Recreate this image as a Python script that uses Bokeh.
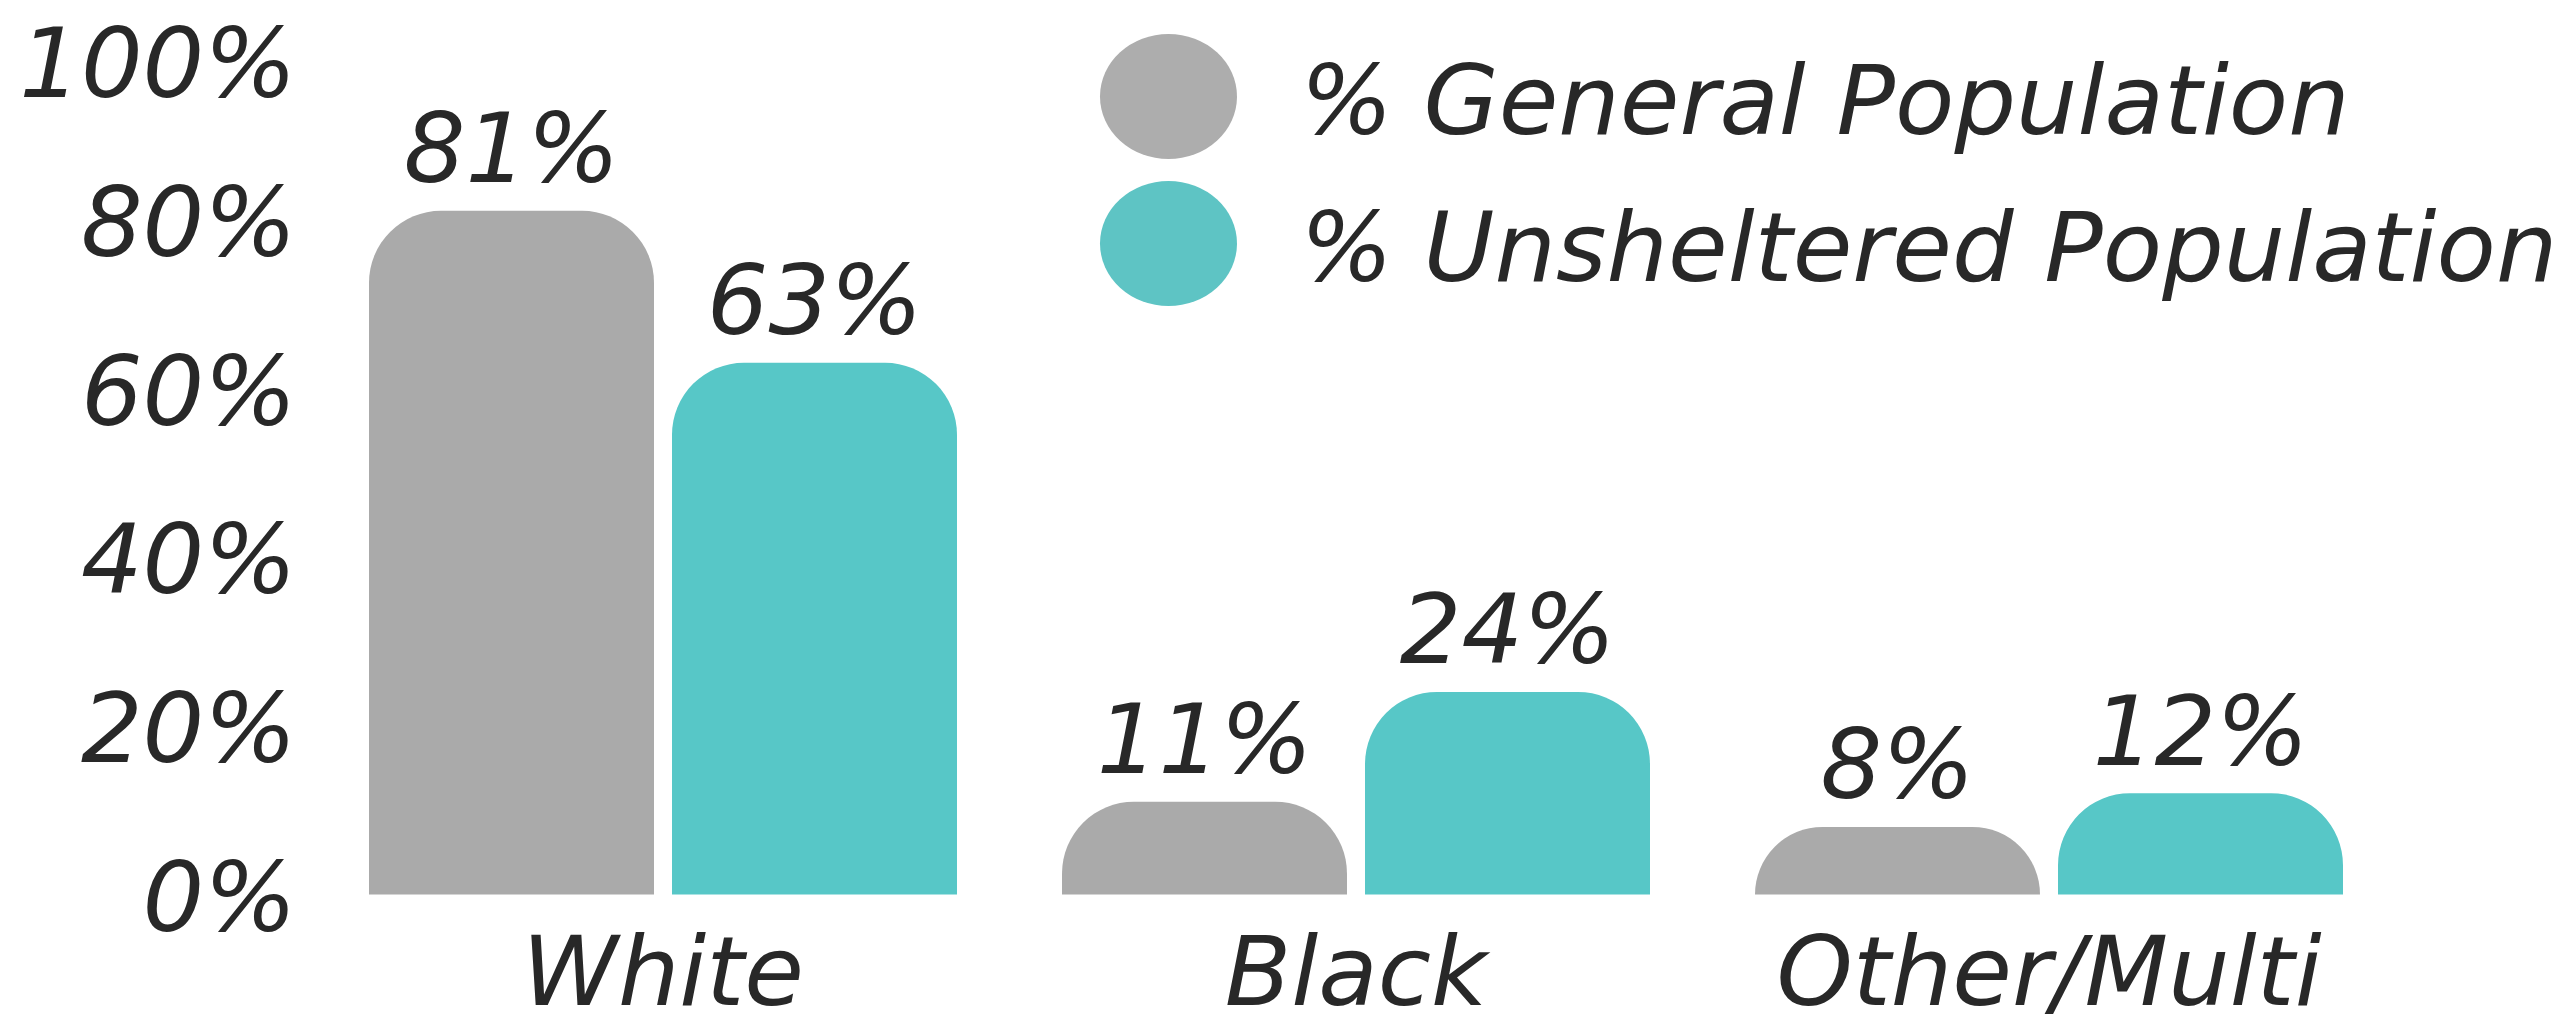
from bokeh.plotting import figure
from bokeh.models import Range1d, ColumnDataSource
from bokeh.core.properties import value
from bokeh.embed import file_html
from bokeh.resources import INLINE

# ---- data ----
categories = ["White", "Black", "Other/Multi"]
general = [81, 11, 8]
unsheltered = [63, 24, 12]
series_names = ["% General Population", "% Unsheltered Population"]
y_ticks = [0, 20, 40, 60, 80, 100]
y_tick_labels = ["0%", "20%", "40%", "60%", "80%", "100%"]

# ---- style / layout ----
FONT = "DejaVu Sans"
FS = "97px"
TEXT_COLOR = "#282828"
GRAY = "#aaaaaa"
TEAL = "#57c7c7"
LEG_GRAY = "#adadad"
LEG_TEAL = "#5ec4c4"

W, H = 2562, 1031
GROUP_PX = 693.0
GROUP0_PX = 662.5
PX_PER_PCT = 8.44
BASE_PX = 894.0
X0 = -GROUP0_PX / GROUP_PX
X1 = X0 + W / GROUP_PX
Y1 = BASE_PX / PX_PER_PCT
Y0 = -(H - BASE_PX) / PX_PER_PCT

BAR_W = 285 / GROUP_PX
OFF = (285 + 18) / 2 / GROUP_PX
RADIUS = 72
SHIFT = 33  # baseline correction


def sx(px):
    return X0 + px / GROUP_PX


def sy(px):
    return (BASE_PX - px) / PX_PER_PCT


p = figure(width=W, height=H, x_range=Range1d(X0, X1), y_range=Range1d(Y0, Y1),
           output_backend="svg", toolbar_location=None,
           min_border_left=0, min_border_right=0, min_border_top=0, min_border_bottom=0)
p.outline_line_color = None
p.xgrid.visible = False
p.ygrid.visible = False
p.xaxis.visible = False
p.yaxis.visible = False
p.background_fill_color = "white"
p.border_fill_color = "white"

idx = list(range(len(categories)))
xg = [i - OFF for i in idx]
xu = [i + OFF for i in idx]

p.vbar(x=xg, top=general, bottom=0, width=BAR_W, fill_color=GRAY, line_color=None,
       border_radius=(RADIUS, RADIUS, 0, 0))
p.vbar(x=xu, top=unsheltered, bottom=0, width=BAR_W, fill_color=TEAL, line_color=None,
       border_radius=(RADIUS, RADIUS, 0, 0))

common = dict(text_font=value(FONT), text_font_size=FS, text_font_style="italic",
              text_color=TEXT_COLOR, text_baseline="alphabetic")

# value labels
p.text(x=xg, y=general, text=[f"{v}%" for v in general], text_align="center",
       y_offset=-29 - SHIFT, **common)
p.text(x=xu, y=unsheltered, text=[f"{v}%" for v in unsheltered], text_align="center",
       y_offset=-29 - SHIFT, **common)

# category labels (x axis)
p.text(x=idx, y=[0] * len(idx), text=categories, text_align="center",
       y_offset=110 - SHIFT, **common)

# y tick labels (top one nudged so it stays inside the canvas)
ysrc = ColumnDataSource(dict(
    x=[sx(296)] * len(y_ticks), y=y_ticks, text=y_tick_labels,
    dy=[36 - SHIFT + (10 if t == max(y_ticks) else 0) for t in y_ticks]))
p.text(x="x", y="y", text="text", y_offset="dy", source=ysrc, text_align="right", **common)

# legend
p.ellipse(x=[sx(1168), sx(1168)], y=[sy(96), sy(243)], width=137, height=125,
          width_units="screen", height_units="screen",
          fill_color=[LEG_GRAY, LEG_TEAL], line_color=None)
p.text(x=[sx(1300), sx(1300)], y=[sy(133), sy(280)], text=series_names,
       text_align="left", y_offset=-SHIFT, **common)

open("out.html", "w").write(file_html(p, INLINE))
